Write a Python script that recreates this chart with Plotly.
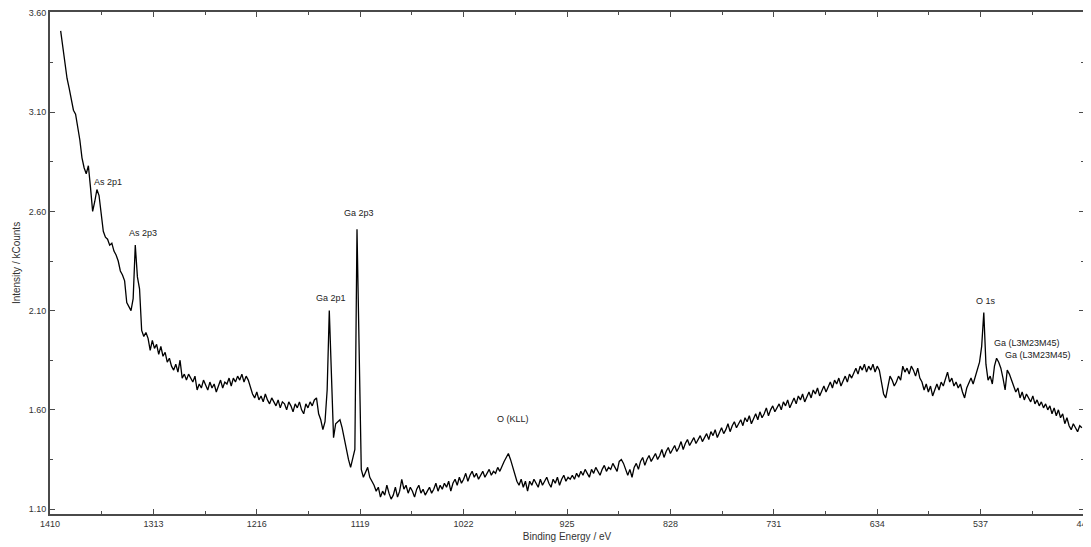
import numpy as np
import plotly.graph_objects as go

# Binding energy grid (eV), acquisition step 2 eV
energy_start = 1400
energy_stop = 441
energy_step = -2
binding_energy = np.arange(energy_start, energy_stop, energy_step)

# Intensity (kCounts), 1400 eV -> 442 eV
intensity = [
    3.51, 3.42, 3.33, 3.27, 3.22, 3.16, 3.11, 3.09, 3.03, 2.96,
    2.87, 2.82, 2.79, 2.83, 2.72, 2.60, 2.65, 2.71, 2.68, 2.60,
    2.50, 2.47, 2.46, 2.43, 2.44, 2.40, 2.38, 2.35, 2.30, 2.28,
    2.25, 2.14, 2.12, 2.10, 2.16, 2.43, 2.27, 2.21, 2.00, 1.97,
    1.99, 1.96, 1.90, 1.95, 1.91, 1.93, 1.88, 1.92, 1.87, 1.89,
    1.84, 1.86, 1.82, 1.80, 1.83, 1.79, 1.85, 1.76, 1.78, 1.75,
    1.78, 1.76, 1.74, 1.77, 1.70, 1.73, 1.71, 1.75, 1.72, 1.70,
    1.74, 1.71, 1.73, 1.69, 1.72, 1.75, 1.71, 1.74, 1.73, 1.76,
    1.72, 1.76, 1.74, 1.77, 1.75, 1.78, 1.74, 1.77, 1.75, 1.71,
    1.68, 1.66, 1.69, 1.65, 1.67, 1.64, 1.68, 1.65, 1.63, 1.66,
    1.64, 1.62, 1.65, 1.61, 1.64, 1.63, 1.60, 1.64, 1.62, 1.59,
    1.63, 1.61, 1.64, 1.60, 1.58, 1.63, 1.61, 1.64, 1.62, 1.65,
    1.66, 1.58, 1.55, 1.50, 1.54, 1.70, 2.10, 1.75, 1.46, 1.53,
    1.54, 1.55, 1.51, 1.45, 1.40, 1.35, 1.31, 1.35, 1.40, 2.51,
    1.95, 1.30, 1.26, 1.29, 1.31, 1.26, 1.24, 1.22, 1.19, 1.21,
    1.16, 1.19, 1.17, 1.22, 1.18, 1.15, 1.17, 1.21, 1.16, 1.19,
    1.25, 1.20, 1.22, 1.18, 1.21, 1.19, 1.16, 1.20, 1.22, 1.18,
    1.20, 1.17, 1.19, 1.21, 1.18, 1.20, 1.23, 1.19, 1.22, 1.20,
    1.23, 1.21, 1.24, 1.19, 1.23, 1.25, 1.22, 1.26, 1.23, 1.25,
    1.28, 1.24, 1.27, 1.29, 1.26, 1.28, 1.25, 1.27, 1.29, 1.26,
    1.28, 1.30, 1.27, 1.29, 1.28, 1.31, 1.29, 1.32, 1.34, 1.36,
    1.38, 1.35, 1.31, 1.27, 1.24, 1.22, 1.25, 1.21, 1.24, 1.19,
    1.24, 1.22, 1.25, 1.23, 1.21, 1.25, 1.22, 1.24, 1.26, 1.23,
    1.21, 1.25, 1.23, 1.26, 1.22, 1.25, 1.27, 1.24, 1.26, 1.25,
    1.27, 1.25, 1.28, 1.26, 1.29, 1.27, 1.30, 1.28, 1.26, 1.30,
    1.28, 1.31, 1.29, 1.27, 1.30, 1.32, 1.29, 1.31, 1.30, 1.33,
    1.31, 1.29, 1.34, 1.35, 1.33, 1.30, 1.27, 1.30, 1.26, 1.31,
    1.33, 1.30, 1.34, 1.36, 1.32, 1.35, 1.37, 1.34, 1.36, 1.38,
    1.35, 1.37, 1.40, 1.36, 1.39, 1.41, 1.38, 1.40, 1.42, 1.39,
    1.41, 1.44, 1.40, 1.43, 1.45, 1.42, 1.44, 1.46, 1.43, 1.45,
    1.47, 1.44, 1.46, 1.48, 1.45, 1.49, 1.47, 1.50, 1.46, 1.49,
    1.51, 1.48, 1.50, 1.53, 1.49, 1.52, 1.54, 1.51, 1.53, 1.55,
    1.52, 1.56, 1.54, 1.57, 1.53, 1.56, 1.58, 1.55, 1.59, 1.56,
    1.58, 1.61, 1.57, 1.60, 1.62, 1.59, 1.61, 1.63, 1.60, 1.64,
    1.62, 1.65, 1.61, 1.64, 1.66, 1.63, 1.67, 1.65, 1.68, 1.64,
    1.67, 1.69, 1.66, 1.70, 1.68, 1.71, 1.67, 1.70, 1.72, 1.69,
    1.72, 1.74, 1.71, 1.75, 1.73, 1.76, 1.72, 1.75, 1.77, 1.74,
    1.78, 1.76, 1.79, 1.81, 1.78, 1.82, 1.80, 1.83, 1.79, 1.82,
    1.80, 1.83, 1.79, 1.82, 1.80, 1.74, 1.68, 1.66, 1.71, 1.77,
    1.75, 1.72, 1.74, 1.77, 1.75, 1.82, 1.79, 1.81, 1.78, 1.82,
    1.80, 1.77, 1.81, 1.76, 1.74, 1.70, 1.73, 1.69, 1.72, 1.67,
    1.70, 1.73, 1.70, 1.74, 1.72, 1.76, 1.79, 1.74, 1.76, 1.72,
    1.74, 1.71, 1.73, 1.69, 1.66, 1.71, 1.74, 1.76, 1.73, 1.77,
    1.80, 1.84, 1.92, 2.09, 1.83, 1.75, 1.77, 1.73, 1.82, 1.86,
    1.84, 1.81, 1.76, 1.70, 1.80, 1.78, 1.75, 1.72, 1.69, 1.71,
    1.66, 1.69, 1.65, 1.68, 1.66, 1.64, 1.67, 1.63, 1.65, 1.62,
    1.64, 1.61, 1.63, 1.60, 1.62, 1.58, 1.61, 1.57, 1.60, 1.56,
    1.58, 1.53, 1.56, 1.52, 1.50, 1.53, 1.51, 1.49, 1.52, 1.51,
]

# Peak labels
peak_labels = ["As 2p1", "As 2p3", "Ga 2p1", "Ga 2p3", "O (KLL)", "O 1s",
               "Ga (L3M23M45)", "Ga (L3M23M45)"]
label_energy = [1355.6, 1322.8, 1146.4, 1120.1, 975.7, 532.0, 493.5, 483.2]
label_intensity = [2.748, 2.491, 2.164, 2.592, 1.554, 2.148, 1.937, 1.876]

x_ticks = [1410, 1313, 1216, 1119, 1022, 925, 828, 731, 634, 537, 440]
y_ticks = [1.10, 1.60, 2.10, 2.60, 3.10, 3.60]

FONT = "Liberation Sans, Arial, sans-serif"
AXIS_COLOR = "#4a4a4a"

fig = go.Figure()
fig.add_trace(go.Scatter(
    x=binding_energy, y=intensity, mode="lines",
    line=dict(color="#000000", width=1.3), showlegend=False,
))

for txt, xe, yi in zip(peak_labels, label_energy, label_intensity):
    fig.add_annotation(x=xe, y=yi, text=txt, showarrow=False,
                       font=dict(family=FONT, size=9, color="#222222"),
                       xanchor="center", yanchor="middle")

# The page has an 8 px body margin, so the figure is sized/offset to compensate
fig.update_layout(
    width=1083, height=539,
    margin=dict(l=42, r=7, t=4, b=33, autoexpand=False),
    paper_bgcolor="white", plot_bgcolor="white",
    font=dict(family=FONT, size=9, color="#333333"),
    xaxis=dict(
        range=[1410, 440], autorange=False, automargin=False,
        tickmode="array", tickvals=x_ticks, ticktext=[str(v) for v in x_ticks],
        ticks="inside", ticklen=5, tickwidth=1.2, tickcolor=AXIS_COLOR,
        ticklabeloverflow="allow",
        minor=dict(tickmode="linear", tick0=440, dtick=48.5, ticks="inside",
                   ticklen=3, tickwidth=1.2, tickcolor=AXIS_COLOR),
        showline=True, linecolor=AXIS_COLOR, linewidth=2, mirror="ticks",
        showgrid=False, zeroline=False,
        title=dict(text="Binding Energy / eV", font=dict(size=10, color="#333333"), standoff=5),
        tickfont=dict(size=9, color="#333333"),
    ),
    yaxis=dict(
        range=[1.075, 3.605], autorange=False, automargin=False,
        tickmode="array", tickvals=y_ticks, ticktext=[f"{v:.2f}" for v in y_ticks],
        ticks="inside", ticklen=5, tickwidth=1.2, tickcolor=AXIS_COLOR,
        ticklabeloverflow="allow",
        minor=dict(tickmode="linear", tick0=1.10, dtick=0.25, ticks="inside",
                   ticklen=3, tickwidth=1.2, tickcolor=AXIS_COLOR),
        showline=True, linecolor=AXIS_COLOR, linewidth=2, mirror="ticks",
        showgrid=False, zeroline=False,
        title=dict(text="Intensity / kCounts", font=dict(size=10, color="#333333"), standoff=6),
        tickfont=dict(size=9, color="#333333"),
    ),
)

fig.write_html("out.html")
